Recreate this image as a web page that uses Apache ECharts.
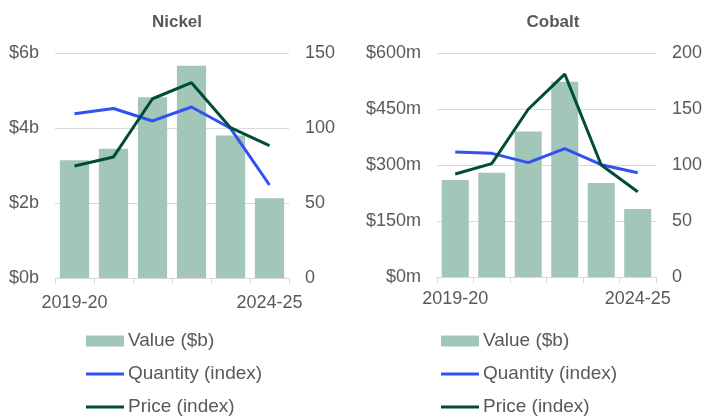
<!DOCTYPE html>
<html>
<head>
<meta charset="utf-8">
<script src="https://cdn.jsdelivr.net/npm/echarts@6/dist/echarts.min.js"></script>
<style>
  html, body { margin: 0; padding: 0; background: #fff; }
  #chart { width: 705px; height: 419px; }
</style>
</head>
<body>
<div id="chart"></div>
<script>
let years = ['2019-20', '2020-21', '2021-22', '2022-23', '2023-24', '2024-25'];

// Nickel
let nickelValue = [3.14, 3.45, 4.82, 5.66, 3.80, 2.13];
let nickelQuantity = [109.5, 113, 104.7, 114, 99.8, 62];
let nickelPrice = [74.7, 80.7, 119.5, 130.2, 100.2, 88.2];

// Cobalt
let cobaltValue = [260, 279, 390, 523, 252, 182];
let cobaltQuantity = [111.7, 110.4, 102.1, 114.6, 100.3, 93.1];
let cobaltPrice = [92, 101.2, 149.8, 181.2, 100, 76.1];

let textColor = '#595959';
let gridColor = '#d9d9d9';
let barColor = '#a2c6b7';
let blue = '#3350f0';
let green = '#004d36';
let font = 'Arial, "Liberation Sans", sans-serif';

function xAxis(gridIndex, margin) {
    return {
        type: 'category',
        gridIndex: gridIndex,
        data: years,
        axisLine: { lineStyle: { color: gridColor, width: 1 } },
        axisTick: { show: true, interval: 0, length: 6, lineStyle: { color: gridColor } },
        axisLabel: {
            interval: function (i) { return i === 0 || i === years.length - 1; },
            color: textColor, fontSize: 18, fontFamily: font, margin: margin
        }
    };
}

function yAxis(gridIndex, pos, max, interval, fmt, grid) {
    return {
        type: 'value',
        gridIndex: gridIndex,
        position: pos,
        min: 0,
        max: max,
        interval: interval,
        axisLine: { show: false },
        axisTick: { show: false },
        splitLine: { show: grid, lineStyle: { color: gridColor, width: 1 } },
        axisLabel: { color: textColor, fontSize: 18, fontFamily: font, margin: 16, formatter: fmt }
    };
}

let lineIcon = 'path://M0,4 L38,4 L38,7 L0,7 Z';

function legend(left) {
    return {
        orient: 'vertical',
        left: left,
        top: 331,
        height: 100,
        padding: 0,
        itemWidth: 38,
        itemHeight: 11,
        itemGap: 13,
        selectedMode: false,
        textStyle: { color: textColor, fontSize: 19, lineHeight: 20, fontFamily: font, padding: [0, 0, 0, -1] },
        data: [
            { name: 'Value ($b)', icon: 'rect' },
            { name: 'Quantity (index)', icon: lineIcon },
            { name: 'Price (index)', icon: lineIcon }
        ]
    };
}

function lineSeries(name, data, color, xi, yi) {
    return {
        name: name,
        type: 'line',
        xAxisIndex: xi,
        yAxisIndex: yi,
        data: data,
        symbol: 'none',
        lineStyle: { color: color, width: 3 },
        itemStyle: { color: color },
        z: 3
    };
}

let option = {
    animation: false,
    backgroundColor: '#fff',
    title: [
        { text: 'Nickel', left: 172, top: 9, textAlign: 'center',
          textStyle: { color: textColor, fontSize: 17, fontWeight: 'bold', fontFamily: font } },
        { text: 'Cobalt', left: 548, top: 9, textAlign: 'center',
          textStyle: { color: textColor, fontSize: 17, fontWeight: 'bold', fontFamily: font } }
    ],
    grid: [
        { left: 55, right: 416, top: 53, bottom: 141 },
        { left: 437, right: 45, top: 53, bottom: 142 }
    ],
    legend: [legend(86), legend(441)],
    xAxis: [xAxis(0, 16), xAxis(1, 13)],
    yAxis: [
        yAxis(0, 'left', 6, 2, '${value}b', true),
        yAxis(0, 'right', 150, 50, '{value}', false),
        yAxis(1, 'left', 600, 150, '${value}m', true),
        yAxis(1, 'right', 200, 50, '{value}', false)
    ],
    series: [
        { name: 'Value ($b)', type: 'bar', xAxisIndex: 0, yAxisIndex: 0, data: nickelValue,
          barCategoryGap: '25%', itemStyle: { color: barColor } },
        lineSeries('Quantity (index)', nickelQuantity, blue, 0, 1),
        lineSeries('Price (index)', nickelPrice, green, 0, 1),
        { name: 'Value ($b)', type: 'bar', xAxisIndex: 1, yAxisIndex: 2, data: cobaltValue,
          barCategoryGap: '26%', itemStyle: { color: barColor } },
        lineSeries('Quantity (index)', cobaltQuantity, blue, 1, 3),
        lineSeries('Price (index)', cobaltPrice, green, 1, 3)
    ]
};

let myChart = echarts.init(document.getElementById('chart'));
myChart.setOption(option);
</script>
</body>
</html>
